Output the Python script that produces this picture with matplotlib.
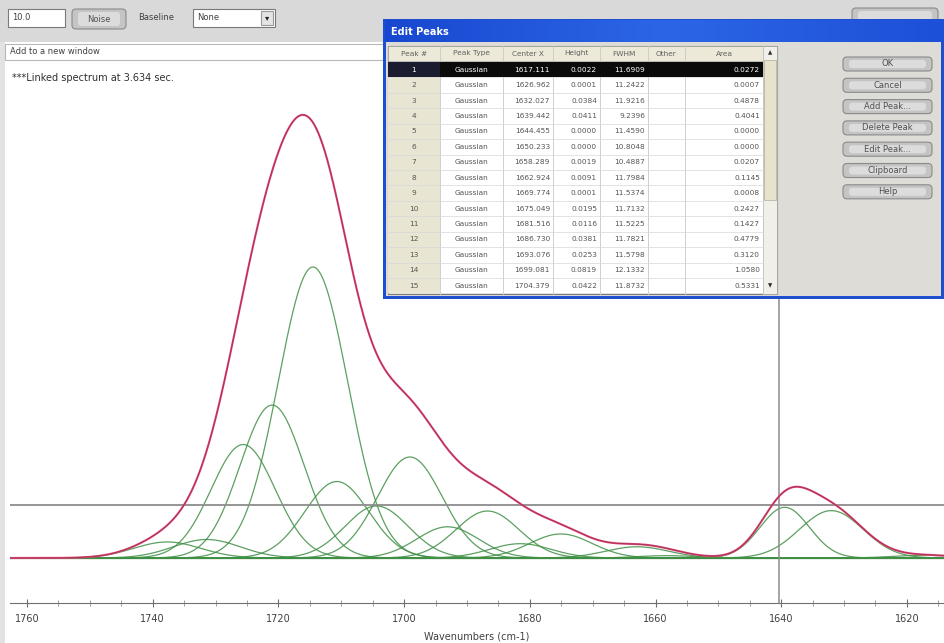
import matplotlib.pyplot as plt
import numpy as np
from matplotlib.patches import Rectangle, FancyBboxPatch
from matplotlib.colors import LinearSegmentedColormap

# peaks 1-15 as listed in the Edit Peaks table
peak_nums = list(range(1, 16))
peak_types = ['Gaussian'] * 15
centers = [1617.111, 1626.962, 1632.027, 1639.442, 1644.455, 1650.233, 1658.289, 1662.924,
           1669.774, 1675.049, 1681.516, 1686.730, 1693.076, 1699.081, 1704.379]
heights = [0.0022, 0.0001, 0.0384, 0.0411, 0.0000, 0.0000, 0.0019, 0.0091,
           0.0001, 0.0195, 0.0116, 0.0381, 0.0253, 0.0819, 0.0422]
fwhms = [11.6909, 11.2422, 11.9216, 9.2396, 11.4590, 10.8048, 10.4887, 11.7984,
         11.5374, 11.7132, 11.5225, 11.7821, 11.5798, 12.1332, 11.8732]
areas = [0.0272, 0.0007, 0.4878, 0.4041, 0.0000, 0.0000, 0.0207, 0.1145,
         0.0008, 0.2427, 0.1427, 0.4779, 0.3120, 1.0580, 0.5331]

# remaining peaks (rows scrolled out of view)
more_centers = [1710.7, 1714.5, 1721.0, 1725.6, 1731.4, 1737.7]
more_heights = [0.062, 0.236, 0.124, 0.092, 0.015, 0.013]
more_fwhms = [12.0, 13.0, 12.0, 12.0, 12.5, 12.5]

cursor_x = 1640.3
cursor_y = 0.043
x_ticks = [1760, 1740, 1720, 1700, 1680, 1660, 1640, 1620]
buttons = ['OK', 'Cancel', 'Add Peak...', 'Delete Peak', 'Edit Peak...', 'Clipboard', 'Help']
headers = ['Peak #', 'Peak Type', 'Center X', 'Height', 'FWHM', 'Other', 'Area']


def gauss(x, c, h, w):
    return h * np.exp(-4 * np.log(2) * (x - c) ** 2 / w ** 2)


W, H = 944, 643
fig = plt.figure(figsize=(W / 100, H / 100), dpi=100)
fig.patch.set_facecolor('white')

# ---- spectrum axes
ax = fig.add_axes([10 / W, 1 - 603 / H, 934 / W, (603 - 65) / H])
ax.set_facecolor('none')
x = np.linspace(1762.7, 1614.1, 2000)
all_c = centers + more_centers
all_h = heights + more_heights
all_w = fwhms + more_fwhms
total = np.zeros_like(x)
for c, h, w in zip(all_c, all_h, all_w):
    g = gauss(x, c, h, w)
    total += g
    ax.plot(x, g, color='#3f8f45', lw=0.9, alpha=0.85)
ax.axhline(0, color='#8aa88a', lw=1.0, zorder=1)
ax.axhline(cursor_y, color='#8c8c8c', lw=1.3)
ax.axvline(cursor_x, color='#8c8c8c', lw=1.1)
ax.plot(x, total, color='#e04a76', lw=1.5)
ax.plot(x, total, color='#7a1e3c', lw=0.6, alpha=0.6)

ax.set_xlim(1762.7, 1614.1)
ax.set_ylim(-0.0365, 0.3998)
for s in ['top', 'left', 'right']:
    ax.spines[s].set_visible(False)
ax.spines['bottom'].set_color('#707070')
ax.set_yticks([])
ax.set_xticks(x_ticks)
ax.set_xticks(np.arange(1760, 1614, -5), minor=True)
ax.tick_params(axis='x', which='major', direction='inout', length=6, color='#707070',
               labelsize=7, labelcolor='#404040', pad=5)
ax.tick_params(axis='x', which='minor', direction='inout', length=4, color='#909090')
ax.set_xlabel('Wavenumbers (cm-1)', fontsize=7, color='#404040', labelpad=5)

# ---- window chrome drawn in pixel coordinates
ov = fig.add_axes([0, 0, 1, 1], zorder=5)
ov.set_xlim(0, W)
ov.set_ylim(H, 0)
ov.axis('off')
ov.patch.set_alpha(0)


def rect(x0, y0, w, h, fc, ec='none', lw=0.8, z=1):
    ov.add_patch(Rectangle((x0, y0), w, h, facecolor=fc, edgecolor=ec, lw=lw, zorder=z))


def button(x0, y0, w, h, label, z=2):
    ov.add_patch(FancyBboxPatch((x0, y0), w, h, boxstyle='round,pad=0,rounding_size=4',
                                facecolor='#c4c4c4', edgecolor='#8a8a8a', lw=0.8, zorder=z))
    ov.add_patch(FancyBboxPatch((x0 + 6, y0 + 3), w - 12, h - 6, boxstyle='round,pad=0,rounding_size=3',
                                facecolor='#dcdcdc', edgecolor='none', zorder=z))
    ov.text(x0 + w / 2, y0 + h / 2, label, fontsize=6, color='#505050',
            ha='center', va='center', zorder=z + 1)


# toolbar
rect(0, 0, W, 42, '#d9d9d9')
rect(0, 42, 5, 601, '#e2e2e2')
rect(8, 9, 57, 18, 'white', '#7a7a7a')
ov.text(12, 18, '10.0', fontsize=6, color='#404040', va='center')
button(72, 9, 54, 20, 'Noise')
ov.text(138, 17, 'Baseline', fontsize=6, color='#404040', va='center')
rect(193, 9, 82, 18, 'white', '#7a7a7a')
ov.text(197, 18, 'None', fontsize=6, color='#404040', va='center')
rect(261, 11, 12, 14, '#e4e4e4', '#9a9a9a')
ov.text(267, 18, '\u25be', fontsize=6, color='#202020', ha='center', va='center')
button(852, 8, 86, 18, '')
rect(5, 44, W - 5, 16, 'white', '#b8b8b8')
ov.text(10, 52, 'Add to a new window', fontsize=6, color='#404040', va='center')
ov.text(12, 78, '***Linked spectrum at 3.634 sec.', fontsize=7, color='#303030', va='center')

# Edit Peaks dialog
rect(383, 19, W - 383, 280, '#1f4fcf', z=3)
rect(386, 42, W - 389, 254, '#dddcd6', z=3)
title_cmap = LinearSegmentedColormap.from_list('xp', ['#1848d0', '#2c66e6', '#1d50d8'])
ov.imshow(np.linspace(0, 1, 100).reshape(1, -1), extent=(385, W, 42, 20), cmap=title_cmap,
          aspect='auto', zorder=3.5)
ov.text(391, 32, 'Edit Peaks', fontsize=7, fontweight='bold', color='white', va='center', zorder=4)

col_edges = [388, 440, 503, 553, 600, 648, 685, 763]
row0, row_h = 62, 15.43
rect(388, 46, 389, 248, 'white', '#7a7a7a', z=4)
rect(388, 46, 375, 15, '#ece9d8', '#a0a0a0', lw=0.5, z=4)
rect(388, row0, 52, row_h * 15, '#e9e5d3', z=4)
rect(763, 46, 14, 248, '#f0efe8', '#a0a0a0', lw=0.5, z=4)
rect(764, 60, 12, 140, '#e6e2cc', '#b0ad9a', lw=0.5, z=4)
ov.text(770, 53, '\u25b2', fontsize=4, ha='center', va='center', color='#303030', zorder=5)
ov.text(770, 286, '\u25bc', fontsize=4, ha='center', va='center', color='#303030', zorder=5)
for i, hd in enumerate(headers):
    cx = (col_edges[i] + col_edges[i + 1]) / 2
    ov.text(cx, 53.5, hd, fontsize=5.3, color='#606060', ha='center', va='center', zorder=5)
for xe in col_edges[1:]:
    ov.plot([xe, xe], [46, 294], color='#c8c8c8', lw=0.6, zorder=4.5)
rect(388, row0, 52, row_h, '#1c1c30', z=4.6)
rect(440, row0, 323, row_h, '#0a0a0a', z=4.6)
for r in range(15):
    yc = row0 + (r + 0.5) * row_h
    ov.plot([388, 763], [row0 + (r + 1) * row_h] * 2, color='#d8d8d8', lw=0.5, zorder=4.5)
    tc = 'white' if r == 0 else '#555555'
    vals = [str(peak_nums[r]), peak_types[r], f'{centers[r]:.3f}', f'{heights[r]:.4f}',
            f'{fwhms[r]:.4f}', '', f'{areas[r]:.4f}']
    for i, v in enumerate(vals):
        if i < 2:
            xx, ha = (col_edges[i] + col_edges[i + 1]) / 2, 'center'
        else:
            xx, ha = col_edges[i + 1] - 3, 'right'
        ov.text(xx, yc, v, fontsize=5.3, color=tc, ha=ha, va='center', zorder=5)

for k, b in enumerate(buttons):
    button(843, 57 + k * 21.3, 89, 14, b, z=4)

fig.savefig('out.png', dpi=100)
